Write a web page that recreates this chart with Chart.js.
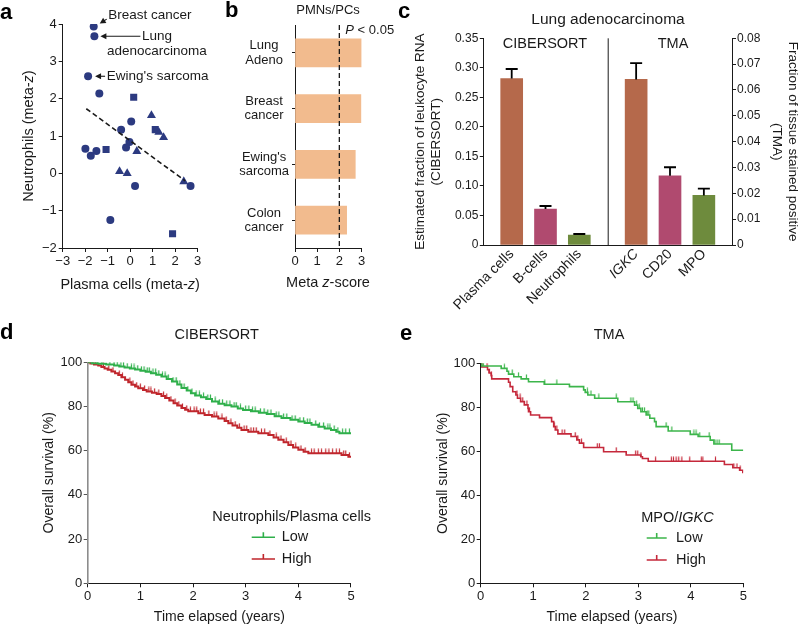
<!DOCTYPE html>
<html>
<head>
<meta charset="utf-8">
<script src="https://cdn.jsdelivr.net/npm/chart.js@4.4.0/dist/chart.umd.min.js"></script>
<style>
html, body { margin: 0; padding: 0; background: #fff; }
#fig { position: relative; width: 800px; height: 627px; overflow: hidden; }
#fig canvas { position: absolute; left: 0; top: 0; }
</style>
</head>
<body>
<div id="fig">
  <canvas id="chA" width="800" height="627"></canvas>
  <canvas id="chB" width="800" height="627"></canvas>
  <canvas id="chC1" width="800" height="627"></canvas>
  <canvas id="chC2" width="800" height="627"></canvas>
  <canvas id="chD" width="800" height="627"></canvas>
  <canvas id="chE" width="800" height="627"></canvas>
</div>
<script>
// ---------- data ----------
// a: meta-z scatter
const aCircles = [[-1.62,3.93],[-1.59,3.67],[-1.87,2.60],[-1.37,2.14],[0.05,1.39],[-0.40,1.17],[-0.03,0.84],[-0.18,0.69],[-1.99,0.66],[-1.75,0.47],[-1.50,0.60],[0.22,-0.34],[2.69,-0.34],[-0.88,-1.25]];
const aSquares = [[0.16,2.04],[1.12,1.17],[-1.07,0.64],[1.89,-1.62]];
const aTriangles = [[0.95,1.55],[1.28,1.10],[1.49,0.96],[0.30,0.59],[-0.47,0.05],[-0.13,0.00],[2.39,-0.22]];
const aTrend = [[-1.95,1.73],[2.45,-0.20]];
const aNotes = ['Breast cancer', ['Lung', 'adenocarcinoma'], "Ewing's sarcoma"];

// b: PMNs/PCs meta z-score
const bCats = [['Lung','Adeno'],['Breast','cancer'],["Ewing's",'sarcoma'],['Colon','cancer']];
const bVals = [3.0, 2.98, 2.72, 2.33];
const bThreshold = 2;

// c: lung adenocarcinoma fractions
const cLabelsRNA = ['Plasma cells', 'B-cells', 'Neutrophils'];
const cRNA = [0.282, 0.061, 0.017];
const cRNAerr = [0.016, 0.005, 0.0016];
const cLabelsTMA = ['IGKC', 'CD20', 'MPO'];
const cTMA = [0.0641, 0.0268, 0.0192];
const cTMAerr = [0.0063, 0.0033, 0.0026];

// d: KM, CIBERSORT (time in years, survival %)
const dLowT = [0,0.08,0.2,0.35,0.5,0.6,0.7,0.8,0.9,1.0,1.1,1.2,1.3,1.4,1.5,1.6,1.7,1.78,1.88,1.96,2.04,2.15,2.25,2.36,2.48,2.6,2.73,2.85,2.95,3.1,3.25,3.4,3.55,3.68,3.85,4.0,4.12,4.25,4.38,4.5,4.62,4.72,4.78,5.0];
const dLowS = [100,99.6,99.3,99,98.6,98.1,97.6,97.2,96.7,96.2,95.7,95.1,94.4,93.6,92.5,91.3,89.9,88.4,87.2,86.0,85.0,84.2,83.4,82.3,81.3,80.6,80.0,79.1,78.4,77.8,77.2,76.6,75.6,74.8,74.0,73.2,72.5,71.7,70.8,70.1,69.4,68.6,67.9,67.9];
const dHighT = [0,0.05,0.12,0.2,0.26,0.32,0.38,0.45,0.52,0.58,0.64,0.71,0.77,0.83,0.9,0.96,1.05,1.12,1.22,1.31,1.4,1.47,1.55,1.63,1.7,1.78,1.85,1.91,2.1,2.22,2.36,2.48,2.6,2.67,2.75,2.84,2.92,3.05,3.24,3.43,3.53,3.62,3.72,3.81,3.9,4.0,4.1,4.19,4.82,4.95,5.0];
const dHighS = [100,99.5,99,98.6,97.9,97.2,96.6,95.8,95,94.2,93.2,92.1,91,89.8,89,88.3,87.5,86.8,86.2,85.6,84.7,83.8,82.7,81.5,80.4,79.3,78.5,77.8,77.0,76.2,75.5,74.6,73.4,72.4,71.4,70.4,69.4,68.6,67.9,67.1,66.0,64.9,63.8,62.6,61.5,60.4,59.5,58.8,58.1,57.3,57.3];
const dLowCens = [0.1,0.18,0.27,0.42,0.5,0.56,0.63,0.68,0.75,0.83,0.88,0.95,1.02,1.07,1.13,1.17,1.24,1.29,1.35,1.42,1.47,1.53,1.62,1.68,1.75,1.83,1.9,1.98,2.06,2.12,2.2,2.28,2.33,2.42,2.5,2.56,2.64,2.7,2.78,2.82,2.9,3.0,3.06,3.13,3.18,3.28,3.35,3.42,3.48,3.58,3.63,3.72,3.78,3.88,3.94,4.03,4.1,4.17,4.22,4.33,4.4,4.48,4.56,4.6,4.68,4.75,4.84,4.9,4.97];
const dHighCens = [0.15,0.3,0.4,0.48,0.6,0.66,0.8,0.86,0.93,1.0,1.08,1.16,1.2,1.27,1.35,1.44,1.5,1.58,1.66,1.73,1.8,1.88,1.95,2.02,2.07,2.14,2.2,2.3,2.4,2.45,2.55,2.63,2.72,2.8,2.88,2.97,3.02,3.1,3.15,3.2,3.3,3.36,3.46,3.58,3.67,3.77,3.86,3.95,4.05,4.13,4.25,4.3,4.38,4.44,4.52,4.58,4.65,4.72,4.78,4.86,4.9,4.97];

// e: KM, TMA
const eLowT = [0,0.02,0.39,0.5,0.53,0.63,0.77,0.91,1.21,1.69,1.96,1.99,2.04,2.17,2.61,2.93,2.99,3.05,3.15,3.22,3.31,3.34,3.57,3.99,4.14,4.37,4.44,4.78,5.0];
const eLowS = [100,98.8,97.7,96.4,95.1,93.9,92.9,91.6,90.5,89.4,87.9,86.8,85.6,84.1,82.5,81.0,79.5,78.0,76.5,75.0,73.5,71.2,69.2,67.7,66.7,65.1,63.3,60.5,60.5];
const eHighT = [0,0.02,0.13,0.16,0.2,0.21,0.53,0.56,0.61,0.67,0.7,0.76,0.83,0.9,0.91,0.95,1.12,1.35,1.39,1.42,1.47,1.72,1.83,1.88,1.96,2.34,2.77,3.05,3.08,3.19,4.64,4.8,4.93,4.99,5.0];
const eHighS = [100,98.3,97.1,95.6,94.4,92.9,91.4,89.4,87.1,85.6,84.1,82.6,81.1,79.5,78.0,76.5,75.3,73.5,71.2,69.7,67.9,66.7,65.2,63.7,61.7,59.8,58.3,57.5,56.7,55.5,54.0,52.5,51.4,50.4,50.4];
const eLowCens = [0.05,0.45,0.6,0.72,0.87,1.22,1.45,2.03,2.1,2.25,2.58,2.86,2.9,2.97,3.02,3.08,3.12,3.17,3.2,3.53,3.64,4.06,4.1,4.17,4.35,4.46,4.5,4.54];
const eHighCens = [0.12,0.16,0.2,0.69,0.75,0.8,0.88,0.93,1.4,1.45,1.55,1.6,1.8,1.85,1.92,2.22,2.26,2.58,2.95,2.99,3.05,3.33,3.63,3.67,3.72,3.77,3.83,3.98,4.2,4.23,4.47,4.82,4.88,4.94];

// ---------- styles ----------
const FONT = '"Liberation Sans", Arial, Helvetica, sans-serif';
const INK = '#1a1a1a';
const NAVY = '#2c3a80';
const PEACH = '#f2bb8e';
const C_BROWN = '#b5694b', C_PINK = '#b04a6f', C_GREEN = '#6e8b3d';
const D_LOW = '#2eaf4a', D_HIGH = '#c0262c';
const E_LOW = '#3cb54b', E_HIGH = '#c5283b';

Chart.defaults.font.family = FONT;
Chart.defaults.color = INK;
Chart.defaults.animation = false;
Chart.defaults.responsive = false;
Chart.defaults.events = [];
Chart.defaults.plugins.legend.display = false;
Chart.defaults.plugins.tooltip.enabled = false;

const tickGrid = (len, color) => ({ drawOnChartArea: false, offset: false, color: color || INK, tickLength: len });
const edge = (color, w) => ({ color: color || INK, width: w || 1 });
const tk = (size, extra) => Object.assign({ color: INK, font: { size: size }, padding: 2, maxRotation: 0, minRotation: 0, autoSkip: false }, extra || {});
const minus = v => String(v).replace('-', '\u2212');

// ---------- drawing helpers ----------
function rich(ctx, parts, x, y, opt) {
  opt = opt || {};
  const size = opt.size || 14.5, align = opt.align || 'center';
  ctx.save();
  ctx.translate(x, y);
  ctx.rotate((opt.rot || 0) * Math.PI / 180);
  ctx.fillStyle = opt.color || INK;
  ctx.textBaseline = 'middle';
  ctx.textAlign = 'left';
  const fonts = parts.map(p => ((p[1] || '') + ' ' + size + 'px ' + FONT).trim());
  let total = 0;
  const widths = parts.map((p, i) => { ctx.font = fonts[i]; const w = ctx.measureText(p[0]).width; total += w; return w; });
  let cx = align === 'center' ? -total / 2 : (align === 'right' ? -total : 0);
  parts.forEach((p, i) => { ctx.font = fonts[i]; ctx.fillText(p[0], cx, 0); cx += widths[i]; });
  ctx.restore();
}
function letter(ctx, s, x, y) {
  ctx.save();
  ctx.font = 'bold 22px ' + FONT;
  ctx.fillStyle = '#000';
  ctx.textBaseline = 'alphabetic';
  ctx.fillText(s, x, y);
  ctx.restore();
}
function arrow(ctx, x1, y1, x2, y2) {
  const ang = Math.atan2(y2 - y1, x2 - x1), L = 6, W = 3;
  ctx.save();
  ctx.strokeStyle = INK; ctx.fillStyle = INK; ctx.lineWidth = 1.1;
  ctx.beginPath(); ctx.moveTo(x1, y1); ctx.lineTo(x2 - L * Math.cos(ang) * 0.8, y2 - L * Math.sin(ang) * 0.8); ctx.stroke();
  ctx.beginPath();
  ctx.moveTo(x2, y2);
  ctx.lineTo(x2 - L * Math.cos(ang) + W * Math.sin(ang), y2 - L * Math.sin(ang) - W * Math.cos(ang));
  ctx.lineTo(x2 - L * Math.cos(ang) - W * Math.sin(ang), y2 - L * Math.sin(ang) + W * Math.cos(ang));
  ctx.closePath(); ctx.fill();
  ctx.restore();
}
function censorMark(color) {
  const c = document.createElement('canvas');
  c.width = 3; c.height = 10;
  const g = c.getContext('2d');
  g.strokeStyle = color; g.lineWidth = 1.2;
  g.beginPath(); g.moveTo(1.5, 0.5); g.lineTo(1.5, 5); g.stroke();
  return c;
}
const pts = arr => arr.map(p => ({ x: p[0], y: p[1] }));
const steps = (t, s) => t.map((v, i) => ({ x: v, y: s[i] }));
function survAt(t, s, x) { let v = s[0]; for (let i = 0; i < t.length; i++) if (t[i] <= x) v = s[i]; return v; }
const cens = (t, s, c) => c.map(x => ({ x: x, y: survAt(t, s, x) }));

// ================================
// a. scatter
// ================================
new Chart(document.getElementById('chA'), {
  type: 'scatter',
  data: {
    datasets: [
      { data: pts(aTrend), type: 'line', showLine: true, borderColor: INK, borderWidth: 1.6, borderDash: [5, 3], pointRadius: 0 },
      { data: pts(aCircles), pointStyle: 'circle', pointRadius: 4, backgroundColor: NAVY, borderColor: NAVY, borderWidth: 0 },
      { data: pts(aSquares), pointStyle: 'rect', pointRadius: 5, backgroundColor: NAVY, borderColor: NAVY, borderWidth: 0 },
      { data: pts(aTriangles), pointStyle: 'triangle', pointRadius: 5.2, backgroundColor: NAVY, borderColor: NAVY, borderWidth: 0 }
    ]
  },
  options: {
    layout: { padding: { left: 0, top: 24, right: 602.5, bottom: 319 } },
    scales: {
      x: { type: 'linear', min: -3, max: 3, grid: tickGrid(4), border: edge(), ticks: tk(13, { stepSize: 1, callback: minus }), afterFit: s => { s.height = 60; } },
      y: { type: 'linear', min: -2, max: 4, grid: tickGrid(4), border: edge(), ticks: tk(13, { stepSize: 1, callback: minus }), afterFit: s => { s.width = 62.7; } }
    }
  },
  plugins: [{
    id: 'aText',
    afterDraw(chart) {
      const ctx = chart.ctx, a = chart.chartArea, xs = chart.scales.x, ys = chart.scales.y;
      letter(ctx, 'a', 0, 18.5);
      rich(ctx, [['Plasma cells (meta-'], ['z', 'italic'], [')']], (a.left + a.right) / 2, 285, { size: 14.5 });
      rich(ctx, [['Neutrophils (meta-'], ['z', 'italic'], [')']], 29, (a.top + a.bottom) / 2, { size: 14.5, rot: -90 });
      const at = i => [xs.getPixelForValue(aCircles[i][0]), ys.getPixelForValue(aCircles[i][1])];
      let [px, py] = at(0);
      arrow(ctx, px + 13, py - 7.5, px + 6, py - 3);
      rich(ctx, [[aNotes[0]]], px + 14.5, py - 11, { size: 13.5, align: 'left' });
      [px, py] = at(1);
      arrow(ctx, px + 46, py, px + 6, py);
      rich(ctx, [[aNotes[1][0]]], px + 47.5, py + 0.3, { size: 13.5, align: 'left' });
      rich(ctx, [[aNotes[1][1]]], px + 12.5, py + 15.4, { size: 13.5, align: 'left' });
      [px, py] = at(2);
      arrow(ctx, px + 17, py, px + 7, py);
      rich(ctx, [[aNotes[2]]], px + 18.7, py, { size: 13.5, align: 'left' });
    }
  }]
});

// ================================
// b. meta z-score bars
// ================================
new Chart(document.getElementById('chB'), {
  type: 'bar',
  data: { labels: bCats, datasets: [{ data: bVals, backgroundColor: PEACH, barThickness: 28 }] },
  options: {
    indexAxis: 'y',
    layout: { padding: { left: 230, top: 25, right: 438.5, bottom: 319 } },
    scales: {
      x: { type: 'linear', min: 0, max: 3, grid: tickGrid(4), border: edge(), ticks: tk(13, { stepSize: 1 }), afterFit: s => { s.height = 60; } },
      y: { type: 'category', offset: true, grid: tickGrid(3), border: edge(), ticks: tk(13, { crossAlign: 'center', padding: 3, font: { size: 13, lineHeight: 1.1 } }), afterFit: s => { s.width = 65; } }
    }
  },
  plugins: [{
    id: 'bText',
    afterDraw(chart) {
      const ctx = chart.ctx, a = chart.chartArea, xs = chart.scales.x;
      letter(ctx, 'b', 225, 17);
      const x = xs.getPixelForValue(bThreshold);
      ctx.save();
      ctx.strokeStyle = INK; ctx.lineWidth = 1.3; ctx.setLineDash([5, 3]);
      ctx.beginPath(); ctx.moveTo(x, a.top); ctx.lineTo(x, a.bottom); ctx.stroke();
      ctx.restore();
      rich(ctx, [['PMNs/PCs']], 328, 10.5, { size: 13 });
      rich(ctx, [['P', 'italic'], [' < 0.05']], x + 6, 30, { size: 13, align: 'left' });
      rich(ctx, [['Meta '], ['z', 'italic'], ['-score']], 328, 283, { size: 14.5 });
    }
  }]
});

// ================================
// c. CIBERSORT vs TMA bars
// ================================
function errBars(vals, errs) {
  return {
    id: 'err',
    afterDatasetsDraw(chart) {
      const ctx = chart.ctx, xs = chart.scales.x, ys = chart.scales.y;
      ctx.save();
      ctx.strokeStyle = '#000'; ctx.lineWidth = 1.8;
      vals.forEach((v, i) => {
        const x = xs.getPixelForValue(i), y0 = ys.getPixelForValue(v), y1 = ys.getPixelForValue(v + errs[i]);
        ctx.beginPath();
        ctx.moveTo(x, y0); ctx.lineTo(x, y1);
        ctx.moveTo(x - 6, y1); ctx.lineTo(x + 6, y1);
        ctx.stroke();
      });
      ctx.restore();
    }
  };
}
const cColors = [C_BROWN, C_PINK, C_GREEN];
const cX = labels => ({
  type: 'linear', min: -0.84, max: 2.84, offset: false,
  grid: { display: false }, border: edge(),
  afterBuildTicks: s => { s.ticks = labels.map((_, i) => ({ value: i })); },
  ticks: { color: INK, autoSkip: false, maxRotation: 45, minRotation: 45, padding: -7,
    font: c => ({ size: 14, style: (labels === cLabelsTMA && c.index === 0) ? 'italic' : 'normal' }),
    callback: (v, i) => labels[i] },
  afterFit: s => { s.height = 82; }
});
const cFmt = v => (v === 0 ? '0' : v.toFixed(2));

new Chart(document.getElementById('chC1'), {
  type: 'bar',
  data: { datasets: [{ data: cLabelsRNA.map((_, i) => ({ x: i, y: cRNA[i] })), backgroundColor: cColors, barThickness: 22 }] },
  options: {
    layout: { padding: { left: 400, top: 38.3, right: 192.3, bottom: 300 } },
    scales: {
      x: cX(cLabelsRNA),
      y: { type: 'linear', min: 0, max: 0.35, grid: tickGrid(3.5), border: edge(), ticks: tk(12, { stepSize: 0.05, callback: cFmt, padding: 1.5 }), afterFit: s => { s.width = 83.3; } }
    }
  },
  plugins: [errBars(cRNA, cRNAerr), {
    id: 'cText',
    afterDraw(chart) {
      const ctx = chart.ctx, a = chart.chartArea;
      letter(ctx, 'c', 398, 18.3);
      rich(ctx, [['Lung adenocarcinoma']], 608, 20, { size: 15.5 });
      rich(ctx, [['CIBERSORT']], 545, 43.5, { size: 14.5 });
      const cy = (a.top + a.bottom) / 2;
      rich(ctx, [['Estimated fraction of leukocyte RNA']], 420, cy, { size: 13.5, rot: -90 });
      rich(ctx, [['(CIBERSORT)']], 436, cy, { size: 13.5, rot: -90 });
    }
  }]
});

new Chart(document.getElementById('chC2'), {
  type: 'bar',
  data: { datasets: [{ data: cLabelsTMA.map((_, i) => ({ x: i, y: cTMA[i] })), backgroundColor: cColors, barThickness: 22 }] },
  options: {
    layout: { padding: { left: 607.7, top: 38.3, right: 0, bottom: 300 } },
    scales: {
      x: cX(cLabelsTMA),
      y: { type: 'linear', position: 'right', min: 0, max: 0.08, grid: tickGrid(3.7), border: edge(), ticks: tk(12, { stepSize: 0.01, callback: cFmt, padding: 1 }), afterFit: s => { s.width = 67.7; } }
    }
  },
  plugins: [errBars(cTMA, cTMAerr), {
    id: 'cText2',
    afterDraw(chart) {
      const ctx = chart.ctx, a = chart.chartArea;
      ctx.save();
      ctx.strokeStyle = INK; ctx.lineWidth = 1;
      ctx.beginPath(); ctx.moveTo(a.left + 0.5, a.top); ctx.lineTo(a.left + 0.5, a.bottom); ctx.stroke();
      ctx.restore();
      rich(ctx, [['TMA']], 673, 43.5, { size: 14.5 });
      const cy = (a.top + a.bottom) / 2;
      rich(ctx, [['Fraction of tissue stained positive']], 793, cy, { size: 13.5, rot: 90 });
      rich(ctx, [['(TMA)']], 777, cy, { size: 13.5, rot: 90 });
    }
  }]
});

// ================================
// d / e. Kaplan-Meier curves
// ================================
function kmChart(id, cfg) {
  return new Chart(document.getElementById(id), {
    type: 'line',
    data: {
      datasets: [
        { label: 'Low', data: steps(cfg.lowT, cfg.lowS), stepped: true, borderColor: cfg.low, borderWidth: cfg.lw, pointRadius: 0 },
        { label: 'High', data: steps(cfg.highT, cfg.highS), stepped: true, borderColor: cfg.high, borderWidth: cfg.lw, pointRadius: 0 },
        { data: cens(cfg.lowT, cfg.lowS, cfg.lowC), showLine: false, pointStyle: censorMark(cfg.low), pointRadius: 3 },
        { data: cens(cfg.highT, cfg.highS, cfg.highC), showLine: false, pointStyle: censorMark(cfg.high), pointRadius: 3 }
      ]
    },
    options: {
      layout: { padding: cfg.pad },
      scales: {
        x: { type: 'linear', min: 0, max: 5, grid: tickGrid(4), border: edge(), ticks: tk(13, { stepSize: 1, padding: 1.5 }), afterFit: s => { s.height = 40; } },
        y: { type: 'linear', min: 0, max: 100, grid: tickGrid(4, cfg.yTick), border: edge(cfg.yAxis, cfg.yw), ticks: tk(13, { stepSize: 20, padding: 1.5 }), afterFit: s => { s.width = cfg.yWidth; } }
      }
    },
    plugins: [{
      id: id + 'Text',
      afterDraw(chart) {
        const ctx = chart.ctx, a = chart.chartArea;
        letter(ctx, cfg.letter[0], cfg.letter[1], cfg.letter[2]);
        rich(ctx, [[cfg.title]], cfg.titleX, 335, { size: 14.5 });
        rich(ctx, [['Overall survival (%)']], cfg.yTitleX, (a.top + a.bottom) / 2, { size: 14, rot: -90 });
        rich(ctx, [['Time elapsed (years)']], (a.left + a.right) / 2, 617, { size: 14 });
        const lg = cfg.legend;
        rich(ctx, lg.title, lg.cx, lg.ty, { size: 14.5 });
        [[cfg.low, 'Low', lg.y1], [cfg.high, 'High', lg.y2]].forEach(e => {
          ctx.save();
          ctx.strokeStyle = e[0]; ctx.lineWidth = 1.6;
          ctx.beginPath();
          ctx.moveTo(lg.x1, e[2]); ctx.lineTo(lg.x2, e[2]);
          const m = (lg.x1 + lg.x2) / 2;
          ctx.moveTo(m, e[2]); ctx.lineTo(m, e[2] - 5);
          ctx.stroke();
          ctx.restore();
          rich(ctx, [[e[1]]], lg.tx, e[2], { size: 14.5, align: 'left' });
        });
      }
    }]
  });
}

kmChart('chD', {
  lowT: dLowT, lowS: dLowS, highT: dHighT, highS: dHighS, lowC: dLowCens, highC: dHighCens,
  low: D_LOW, high: D_HIGH, lw: 2,
  pad: { left: 0, top: 362.3, right: 449, bottom: 3.7 }, yWidth: 87.7,
  yAxis: '#8c8c8c', yw: 1.6, yTick: '#555',
  letter: ['d', 0, 338.5], title: 'CIBERSORT', titleX: 216.7, yTitleX: 49.3,
  legend: { title: [['Neutrophils/Plasma cells']], cx: 291.7, ty: 516.7, x1: 251.7, x2: 275, tx: 281.7, y1: 537.3, y2: 559 }
});

kmChart('chE', {
  lowT: eLowT, lowS: eLowS, highT: eHighT, highS: eHighS, lowC: eLowCens, highC: eHighCens,
  low: E_LOW, high: E_HIGH, lw: 1.6,
  pad: { left: 400, top: 363.3, right: 56.7, bottom: 3.7 }, yWidth: 80.7,
  yAxis: INK, yw: 1, yTick: INK,
  letter: ['e', 400, 340], title: 'TMA', titleX: 609, yTitleX: 442.7,
  legend: { title: [['MPO/'], ['IGKC', 'italic']], cx: 677.5, ty: 518, x1: 646.7, x2: 666.7, tx: 676, y1: 538, y2: 560 }
});
</script>
</body>
</html>
